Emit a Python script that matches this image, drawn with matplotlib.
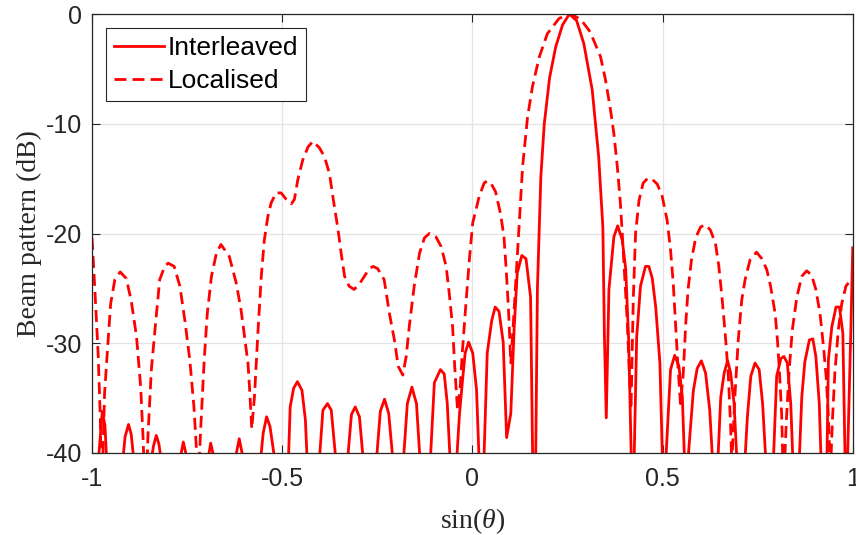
import numpy as np

import matplotlib
matplotlib.use('Agg')
import matplotlib.pyplot as plt

plt.rcParams['font.family'] = ['Liberation Sans', 'DejaVu Sans']
plt.rcParams['mathtext.fontset'] = 'custom'
plt.rcParams['mathtext.rm'] = 'Liberation Serif'
plt.rcParams['mathtext.it'] = 'Liberation Serif:italic'

# Interleaved subarray beam pattern (dB), sampled at the plotted vertices
sin_interleaved = [
    -1.000, -0.984, -0.978, -0.973, -0.966, -0.961, -0.950,
    -0.920, -0.913, -0.904, -0.897, -0.889, -0.875,
    -0.846, -0.838, -0.831, -0.824, -0.817, -0.800,
    -0.771, -0.760, -0.747, -0.730,
    -0.697, -0.688, -0.676, -0.655,
    -0.626, -0.613, -0.600, -0.580,
    -0.558, -0.550, -0.541, -0.532, -0.518, -0.505,
    -0.484, -0.479, -0.470, -0.460, -0.448, -0.439, -0.434, -0.420,
    -0.403, -0.393, -0.381, -0.371, -0.358, -0.345,
    -0.329, -0.318, -0.308, -0.297, -0.286, -0.270,
    -0.253, -0.242, -0.231, -0.220, -0.208, -0.195,
    -0.182, -0.171, -0.159, -0.147, -0.137, -0.120,
    -0.111, -0.100, -0.084, -0.074, -0.066, -0.058, -0.050,
    -0.042, -0.034, -0.026, -0.019, -0.010, 0.001, 0.011, 0.018, 0.024,
    0.030, 0.039, 0.051, 0.060, 0.070, 0.081, 0.090, 0.101, 0.110, 0.118,
    0.130, 0.141, 0.153, 0.159, 0.162,
    0.166, 0.171, 0.180, 0.189, 0.203, 0.219, 0.237, 0.255, 0.274, 0.293,
    0.315, 0.332, 0.343, 0.347, 0.352, 0.359, 0.372, 0.382, 0.394, 0.403,
    0.411, 0.418, 0.421,
    0.425, 0.432, 0.442, 0.455, 0.464, 0.473, 0.482, 0.493, 0.500, 0.504,
    0.508, 0.521, 0.532, 0.543, 0.552, 0.558, 0.562,
    0.566, 0.581, 0.591, 0.602, 0.613, 0.624, 0.632, 0.638,
    0.645, 0.653, 0.662, 0.671, 0.679, 0.688, 0.696, 0.705,
    0.716, 0.723, 0.732, 0.743, 0.754, 0.763, 0.772, 0.782,
    0.791, 0.800, 0.811, 0.819, 0.828, 0.837, 0.843, 0.851,
    0.859, 0.866, 0.874, 0.886, 0.895, 0.903, 0.912, 0.917, 0.924,
    0.932, 0.936, 0.945, 0.956, 0.965, 0.974, 0.980, 0.983,
    0.986, 0.995, 1.000,
]
bp_interleaved = [
    -48.0, -41.0, -38.5, -36.2, -37.5, -41.0, -50.0,
    -41.0, -38.5, -37.4, -38.3, -41.0, -50.0,
    -41.0, -39.3, -38.4, -39.2, -41.0, -50.0,
    -41.0, -39.0, -41.0, -50.0,
    -41.0, -39.1, -41.0, -50.0,
    -41.0, -38.7, -41.0, -50.0,
    -41.0, -38.2, -36.7, -37.6, -41.0, -50.0,
    -41.0, -35.8, -34.1, -33.5, -34.3, -37.0, -41.0, -50.0,
    -41.0, -36.1, -35.5, -36.1, -41.0, -50.0,
    -41.0, -36.5, -35.8, -36.7, -41.0, -50.0,
    -41.0, -36.2, -35.1, -36.4, -41.0, -50.0,
    -41.0, -35.5, -34.0, -35.5, -41.0, -50.0,
    -41.0, -33.6, -32.4, -32.8, -35.5, -41.0, -50.0,
    -41.0, -36.5, -33.4, -30.9, -29.9, -30.9, -34.3, -41.0, -50.0,
    -41.0, -30.9, -27.9, -26.7, -27.1, -29.9, -38.6, -36.4, -28.5, -23.6,
    -22.0, -22.3, -25.8, -42.0, -50.0,
    -42.0, -25.0, -14.8, -10.0, -5.8, -3.0, -1.0, 0.0, -0.6, -2.7,
    -6.9, -13.0, -19.4, -29.1, -36.8, -25.1, -20.3, -19.3, -20.6, -23.2,
    -29.8, -41.0, -50.0,
    -41.0, -29.4, -24.8, -23.0, -23.0, -24.1, -26.7, -31.8, -41.0, -50.0,
    -41.0, -32.4, -31.1, -32.1, -34.9, -41.0, -50.0,
    -41.0, -34.3, -32.3, -31.6, -32.7, -36.1, -41.0, -50.0,
    -41.0, -34.9, -32.7, -31.6, -32.7, -35.5, -41.0, -50.0,
    -41.0, -36.7, -33.0, -31.8, -32.4, -35.5, -41.0, -50.0,
    -41.0, -33.0, -31.4, -31.2, -31.8, -35.5, -41.0, -50.0,
    -41.0, -34.9, -31.7, -29.7, -29.6, -31.2, -35.5, -41.0, -50.0,
    -41.0, -31.5, -28.5, -26.7, -26.7, -29.1, -41.0, -50.0,
    -41.0, -28.8, -21.3,
]

# Localised subarray beam pattern (dB)
sin_localised = [
    -1.000, -0.993, -0.984, -0.978, -0.975, -0.967, -0.960, -0.951, -0.940,
    -0.926, -0.910, -0.897, -0.883, -0.872, -0.866, -0.859,
    -0.853, -0.844, -0.833, -0.822, -0.809, -0.800, -0.784, -0.769, -0.756,
    -0.743, -0.732, -0.726, -0.721,
    -0.714, -0.705, -0.697, -0.686, -0.673, -0.661, -0.639, -0.621, -0.608,
    -0.599, -0.590, -0.586, -0.580,
    -0.573, -0.564, -0.555, -0.547, -0.538, -0.529, -0.516, -0.503, -0.489,
    -0.476, -0.468, -0.459, -0.446, -0.432, -0.419, -0.402, -0.389, -0.376,
    -0.367, -0.353, -0.345, -0.336, -0.324, -0.311, -0.297, -0.284, -0.271,
    -0.261, -0.249, -0.232, -0.218, -0.205, -0.195, -0.183,
    -0.174, -0.166, -0.153, -0.139, -0.126, -0.113, -0.096, -0.082, -0.069,
    -0.061, -0.052, -0.046, -0.039,
    -0.032, -0.026, -0.017, -0.008, 0.001, 0.009, 0.018, 0.031, 0.039,
    0.050, 0.061, 0.074, 0.083, 0.089, 0.095, 0.101,
    0.108, 0.114, 0.123, 0.132, 0.145, 0.158, 0.176, 0.197, 0.228, 0.259,
    0.285, 0.307, 0.319, 0.337, 0.350, 0.363, 0.372, 0.381, 0.389, 0.394,
    0.400, 0.407, 0.412, 0.417,
    0.423, 0.429, 0.438, 0.449, 0.460, 0.471, 0.486, 0.499, 0.512, 0.521,
    0.528, 0.534, 0.540, 0.547,
    0.554, 0.561, 0.567, 0.576, 0.587, 0.600, 0.613, 0.626, 0.639, 0.648,
    0.657, 0.666, 0.673, 0.679, 0.682,
    0.690, 0.699, 0.708, 0.717, 0.730, 0.747, 0.761, 0.774, 0.784, 0.796,
    0.802, 0.807, 0.813, 0.818,
    0.826, 0.833, 0.841, 0.853, 0.866, 0.879, 0.892, 0.903, 0.914, 0.923,
    0.930, 0.936, 0.941,
    0.947, 0.953, 0.962, 0.971, 0.982, 0.991, 1.000,
]
bp_localised = [
    -20.4, -24.8, -30.9, -37.0, -45.0, -34.6, -30.9, -26.4, -24.2,
    -23.5, -24.1, -26.1, -29.4, -34.0, -38.5, -45.0,
    -38.5, -32.4, -28.2, -24.2, -23.0, -22.7, -23.0, -24.8, -27.9,
    -31.5, -35.8, -39.4, -43.0,
    -37.6, -31.5, -27.3, -23.9, -21.8, -21.0, -22.1, -24.5, -27.0,
    -29.4, -31.8, -34.0, -37.8,
    -34.9, -29.1, -23.9, -20.6, -18.5, -17.2, -16.3, -16.3, -16.9,
    -17.3, -16.9, -15.1, -13.3, -12.1, -11.6, -12.2, -13.0, -14.5,
    -16.6, -19.7, -21.8, -23.9, -24.8, -25.1, -24.6, -23.9, -23.2,
    -23.0, -23.2, -24.2, -27.3, -29.7, -32.1, -32.9,
    -31.2, -28.5, -24.8, -21.8, -20.4, -20.0, -20.3, -21.2, -23.0,
    -25.4, -28.5, -32.4, -36.1,
    -34.0, -30.6, -26.4, -22.4, -19.0, -17.9, -16.6, -15.4, -15.2,
    -15.5, -16.2, -18.2, -20.3, -23.3, -27.0, -31.8,
    -28.0, -24.5, -19.1, -13.9, -9.4, -6.6, -3.9, -1.8, -0.4, 0.0,
    -0.5, -1.5, -2.4, -3.9, -6.0, -8.7, -10.9, -13.9, -17.2, -20.0,
    -23.6, -27.9, -32.1, -36.0,
    -26.0, -20.0, -17.0, -15.4, -15.0, -15.0, -15.5, -16.6, -18.8, -21.5,
    -24.5, -28.2, -31.8, -35.5,
    -33.0, -28.2, -25.1, -22.4, -20.4, -19.4, -19.2, -19.7, -20.9, -23.0,
    -26.1, -29.7, -33.0, -37.6, -41.0,
    -34.9, -29.7, -26.1, -24.2, -22.4, -21.7, -22.3, -23.3, -24.8, -27.3,
    -29.7, -32.4, -36.4, -43.0,
    -36.7, -32.4, -28.8, -25.8, -23.9, -23.4, -23.8, -25.1, -27.3, -30.3,
    -33.0, -36.7, -42.0,
    -36.7, -32.7, -28.8, -26.4, -24.8, -24.4, -24.3,
]

x_ticks = [-1, -0.5, 0, 0.5, 1]
x_tick_labels = ['-1', '-0.5', '0', '0.5', '1']
y_ticks = [-40, -30, -20, -10, 0]
y_tick_labels = ['-40', '-30', '-20', '-10', '0']

edge = '#262626'

fig = plt.figure(figsize=(8.56, 5.35), dpi=100)
ax = fig.add_axes([0.1075, 0.1533, 0.8887, 0.8205])

ax.plot(sin_interleaved, bp_interleaved, color='#ff0000', lw=2.0,
        label='Interleaved')
ax.plot(sin_localised, bp_localised, color='#ff0000', lw=2.0,
        ls=(0, (4.3, 2.2)), label='Localised')

ax.set_xlim(-1, 1)
ax.set_ylim(-40, 0)
ax.set_xticks(x_ticks)
ax.set_xticklabels(x_tick_labels)
ax.set_yticks(y_ticks)
ax.set_yticklabels(y_tick_labels)

ax.grid(True, color='#e3e3e3', lw=0.9)
ax.set_axisbelow(True)
ax.tick_params(direction='in', length=5.5, width=0.8, colors=edge,
               labelsize=18, top=True, right=True)
ax.tick_params(axis='x', pad=10)
ax.tick_params(axis='y', pad=7)
for s in ax.spines.values():
    s.set_color(edge)
    s.set_linewidth(0.9)

ax.set_xlabel(r'sin($\theta$)', family='Liberation Serif', fontsize=20,
              color=edge, labelpad=11)
ax.set_ylabel('Beam pattern (dB)', family='Liberation Serif', fontsize=20,
              color=edge, labelpad=3)

leg = ax.legend(loc='upper left', bbox_to_anchor=(0.018, 0.968),
                borderaxespad=0, fontsize=19, fancybox=False, framealpha=1,
                edgecolor=edge, handlelength=1.9, handletextpad=0.15,
                labelspacing=0.35, borderpad=0.3)
leg.get_frame().set_linewidth(0.8)

fig.savefig('out.png', dpi=100)
